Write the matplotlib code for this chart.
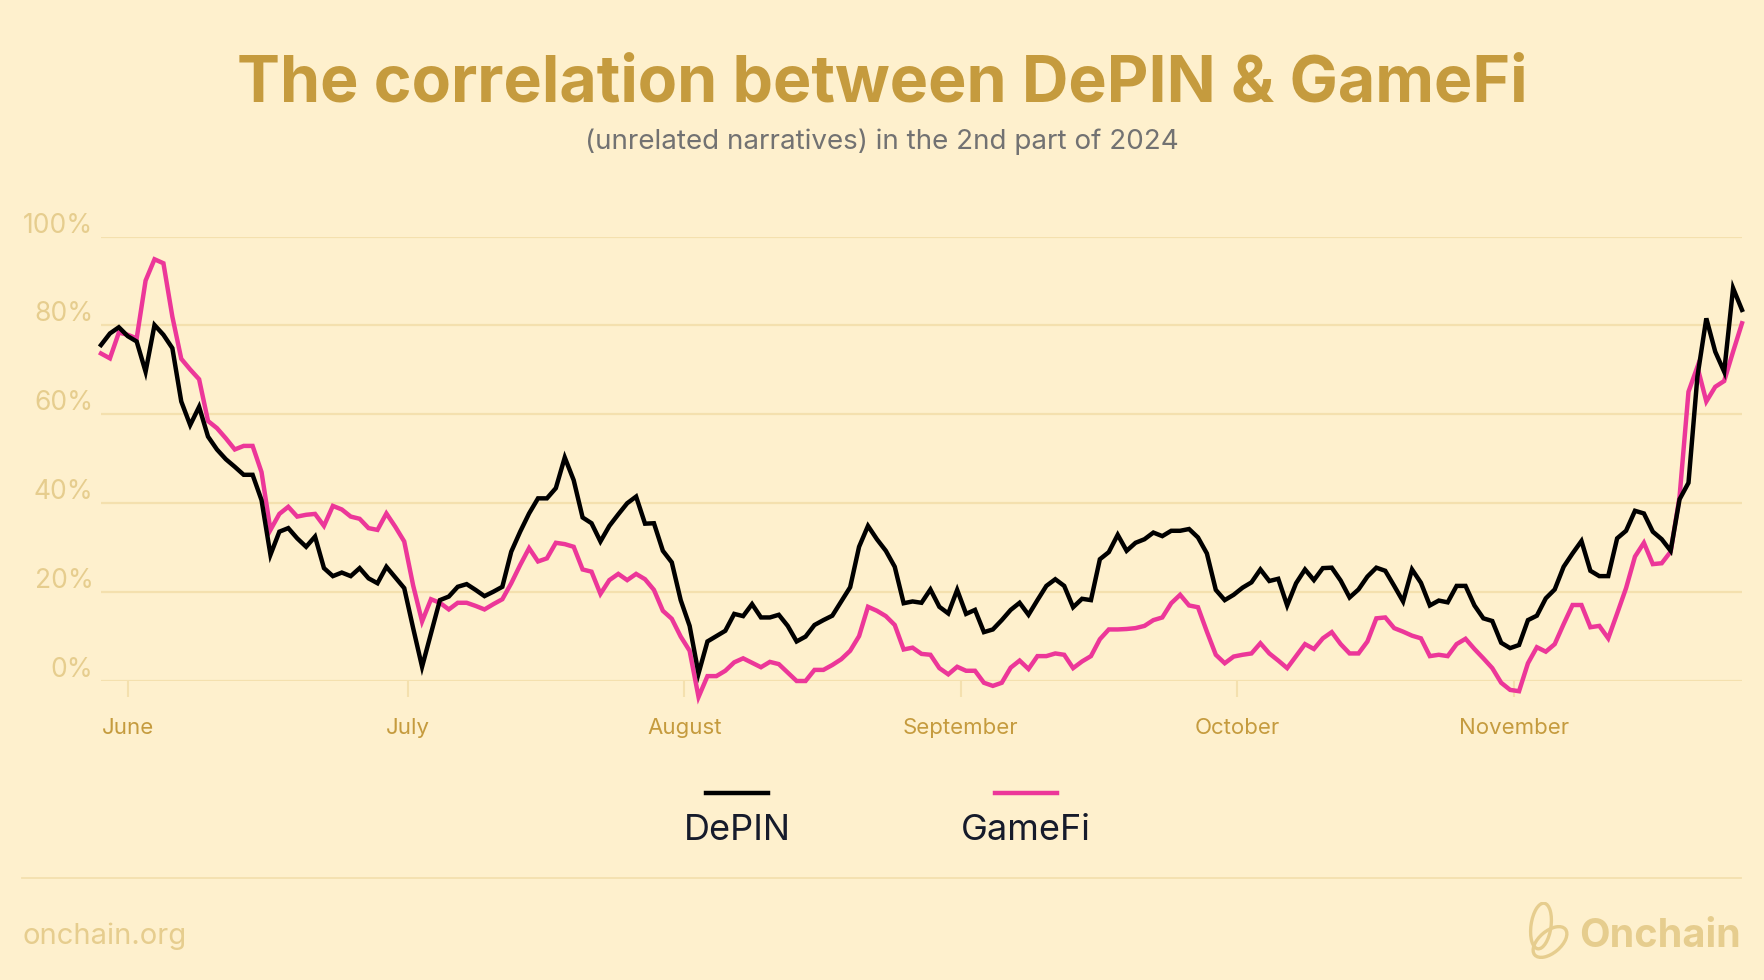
import numpy as np
import matplotlib.pyplot as plt
from matplotlib.lines import Line2D
from matplotlib.patches import Ellipse

# daily correlation values (%), end of May to end of November 2024
depin = [75.6, 78.2, 79.6, 77.6, 76.4, 69.6, 80.1, 77.9, 74.9, 62.9,
         57.6, 61.7, 55.0, 52.1, 49.9, 48.2, 46.4, 46.4, 40.7, 28.4,
         33.6, 34.4, 32.1, 30.2, 32.5, 25.4, 23.6, 24.4, 23.6, 25.4,
         23.1, 22.0, 25.7, 23.3, 20.9, 11.9, 3.2, 10.7, 18.2, 19.0,
         21.2, 21.8, 20.5, 19.1, 20.1, 21.2, 29.1, 33.6, 37.7, 41.1,
         41.1, 43.4, 50.3, 45.2, 36.8, 35.5, 31.4, 34.9, 37.5, 40.0,
         41.5, 35.4, 35.5, 29.3, 26.7, 18.2, 12.4, 1.7, 8.9, 10.1,
         11.3, 15.1, 14.6, 17.3, 14.3, 14.3, 14.9, 12.4, 8.9, 10.0,
         12.6, 13.7, 14.7, 17.9, 21.1, 30.2, 34.9, 31.9, 29.3, 25.7,
         17.5, 17.9, 17.6, 20.6, 16.7, 15.2, 20.5, 15.1, 16.0, 11.0,
         11.6, 13.7, 16.0, 17.6, 14.9, 18.2, 21.4, 22.9, 21.4, 16.6,
         18.5, 18.2, 27.4, 29.0, 32.9, 29.3, 31.1, 31.9, 33.4, 32.6,
         33.8, 33.8, 34.2, 32.3, 28.7, 20.5, 18.2, 19.4, 21.0, 22.2,
         25.1, 22.5, 23.0, 17.0, 22.0, 25.1, 22.7, 25.4, 25.5, 22.6,
         18.8, 20.6, 23.5, 25.5, 24.8, 21.4, 17.9, 25.1, 22.1, 17.0,
         18.1, 17.7, 21.4, 21.4, 17.0, 14.1, 13.5, 8.6, 7.4, 8.1,
         13.7, 14.7, 18.6, 20.6, 25.7, 28.7, 31.5, 24.8, 23.6, 23.6,
         32.1, 33.8, 38.3, 37.7, 33.6, 31.9, 29.3, 40.9, 44.6, 68.5,
         81.6, 74.1, 69.6, 88.4, 83.5]

gamefi = [73.7, 72.6, 78.4, 77.9, 77.1, 90.1, 94.9, 94.0, 82.0, 72.5,
          70.1, 67.9, 58.5, 56.9, 54.6, 52.1, 52.9, 52.9, 47.0, 34.0,
          37.6, 39.2, 37.0, 37.4, 37.6, 34.9, 39.4, 38.6, 37.0, 36.5,
          34.4, 34.0, 37.7, 34.7, 31.4, 21.5, 13.4, 18.4, 17.6, 16.1,
          17.6, 17.6, 16.9, 16.1, 17.3, 18.4, 22.0, 26.1, 29.9, 26.9,
          27.6, 31.1, 30.8, 30.2, 25.1, 24.6, 19.6, 22.7, 24.1, 22.7,
          24.1, 22.9, 20.5, 15.8, 14.0, 10.0, 6.8, -3.6, 1.1, 1.1,
          2.3, 4.2, 5.1, 4.1, 3.1, 4.3, 3.8, 1.9, 0.0, 0.0,
          2.5, 2.5, 3.6, 4.9, 6.8, 10.1, 16.7, 15.8, 14.6, 12.6,
          7.1, 7.5, 6.1, 5.9, 2.9, 1.5, 3.2, 2.3, 2.3, -0.4,
          -1.1, -0.4, 3.0, 4.6, 2.7, 5.6, 5.6, 6.2, 5.9, 2.9,
          4.4, 5.6, 9.4, 11.6, 11.6, 11.7, 11.9, 12.4, 13.7, 14.3,
          17.5, 19.4, 17.0, 16.6, 11.1, 5.9, 4.0, 5.5, 5.9, 6.2,
          8.5, 6.2, 4.6, 2.9, 5.6, 8.3, 7.2, 9.6, 11.0, 8.3,
          6.2, 6.2, 8.9, 14.1, 14.3, 11.9, 11.1, 10.2, 9.6, 5.6,
          5.9, 5.6, 8.3, 9.5, 7.2, 5.1, 2.9, -0.4, -2.0, -2.3,
          4.0, 7.6, 6.6, 8.3, 12.8, 17.1, 17.1, 12.1, 12.4, 9.6,
          15.2, 20.9, 28.0, 31.1, 26.3, 26.5, 29.1, 41.5, 65.1, 70.7,
          62.9, 66.2, 67.5, 74.1, 80.5]

months = ["June", "July", "August", "September", "October", "November"]
month_ticks = [3, 34.4, 65.4, 96.4, 127.4, 158.4]
y_ticks = [0, 20, 40, 60, 80, 100]

BG = "#FEF0CD"
GOLD = "#C59B3E"
LIGHT = "#E6CD8E"
GRID = "#F4E0AE"
PINK = "#EC3799"
INK = "#161B2B"

plt.rcParams['font.family'] = ['Inter', 'DejaVu Sans']

W, H = 1764, 980
fig = plt.figure(figsize=(W / 100, H / 100), dpi=100, facecolor=BG)


def fx(px):
    return px / W


def fy(py):
    return 1 - py / H


ax = fig.add_axes([fx(101), fy(681), fx(1742) - fx(101), fy(236.6) - fy(681)])
ax.set_facecolor(BG)
x = np.arange(len(depin))
ax.plot(x, depin, color="black", lw=3.2, clip_on=False, zorder=3, solid_joinstyle='miter')
ax.plot(x, gamefi, color=PINK, lw=3.2, clip_on=False, zorder=2, solid_joinstyle='miter')
ax.set_xlim(0, len(depin) - 1)
ax.set_ylim(0, 100)
for s in ax.spines.values():
    s.set_visible(False)
ax.set_yticks(y_ticks)
ax.set_yticklabels([])
ax.tick_params(axis='y', length=0)
ax.grid(axis='y', color=GRID, lw=1.6, zorder=0)
ax.set_xticks(month_ticks)
ax.set_xticklabels(months, color=GOLD, fontsize=16)
ax.tick_params(axis='x', length=11.5, width=1.5, color=GRID, pad=15.5)
for v in y_ticks:
    ax.annotate(f"{v}%", xy=(0, v), xycoords=ax.get_yaxis_transform(),
                xytext=(-7.5, 4), textcoords='offset pixels',
                ha='right', va='baseline', fontsize=19, color=LIGHT)

fig.text(0.5, fy(84), "The correlation between DePIN & GameFi", ha='center', va='center',
         fontsize=46.4, fontweight='bold', color=GOLD)
fig.text(0.5, fy(142), "(unrelated narratives) in the 2nd part of 2024", ha='center', va='center',
         fontsize=20, color="#727272")

# legend: line above label
for cx, name, col in [(737, "DePIN", "black"), (1026, "GameFi", PINK)]:
    fig.add_artist(Line2D([fx(cx - 31), fx(cx + 31)], [fy(793), fy(793)], color=col, lw=3.2))
    fig.text(fx(cx), fy(840), name, ha='center', va='baseline', fontsize=26, color=INK)

# footer
fig.add_artist(Line2D([fx(22), fx(1741)], [fy(877.5), fy(877.5)], color=GRID, lw=1.3))
fig.text(fx(22), fy(943.5), "onchain.org", ha='left', va='baseline', fontsize=21, color=LIGHT)
fig.text(fx(1741), fy(947), "Onchain", ha='right', va='baseline', fontsize=28.5,
         fontweight='bold', color=LIGHT)
lg = fig.add_axes([fx(1516), fy(962), fx(1580) - fx(1516), fy(902) - fy(962)])
lg.set_xlim(0, 64)
lg.set_ylim(0, 60)
lg.axis('off')
lg.add_patch(Ellipse((25, 36), 20, 46, angle=-8, fill=False, ec=LIGHT, lw=2.4))
lg.add_patch(Ellipse((34, 20), 40, 22, angle=40, fill=False, ec=LIGHT, lw=2.4))

fig.savefig("out.png", dpi=100, facecolor=BG)
